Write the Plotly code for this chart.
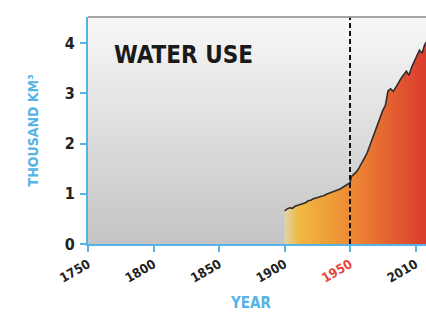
import plotly.graph_objects as go

# ---- data ----
YEARS = [1900, 1902, 1904, 1906, 1908, 1910, 1912, 1914, 1916, 1918, 1920, 1922, 1924,
         1926, 1928, 1930, 1932, 1934, 1936, 1938, 1940, 1942, 1944, 1946, 1948, 1950,
         1951, 1953, 1955, 1957, 1959, 1961, 1963, 1965, 1967, 1969, 1971, 1973, 1975,
         1977, 1979, 1981, 1983, 1985, 1987, 1989, 1991, 1993, 1995, 1997, 1999, 2001,
         2003, 2005, 2007, 2009]
WATER_USE = [0.66, 0.70, 0.72, 0.71, 0.75, 0.77, 0.79, 0.80, 0.82, 0.86, 0.87, 0.90, 0.91,
             0.93, 0.95, 0.96, 0.99, 1.01, 1.02, 1.05, 1.07, 1.09, 1.12, 1.15, 1.18, 1.22,
             1.34, 1.39, 1.44, 1.52, 1.61, 1.70, 1.81, 1.95, 2.10, 2.25, 2.38, 2.52, 2.66,
             2.76, 3.05, 3.09, 3.04, 3.12, 3.22, 3.30, 3.37, 3.44, 3.36, 3.52, 3.63, 3.76,
             3.86, 3.80, 3.97, 4.05]
X_TICK_VALS = [1750, 1800, 1850, 1900, 1950, 2000]
X_TICK_LABELS = ["1750", "1800", "1850", "1900",
                 "<span style='color:#e8433b'>1950</span>", "2010"]
Y_TICK_VALS = [0, 1, 2, 3, 4]
MARK_YEAR = 1950
X_RANGE = [1750, 2008]
Y_RANGE = [0, 4.52]

BLUE = "#55b3e6"
FONT = "Liberation Sans Narrow, DejaVu Sans Condensed, DejaVu Sans, sans-serif"

fig = go.Figure()

# background gradient panel
fig.add_trace(go.Scatter(
    x=[X_RANGE[0], X_RANGE[1], X_RANGE[1], X_RANGE[0], X_RANGE[0]],
    y=[Y_RANGE[0], Y_RANGE[0], Y_RANGE[1], Y_RANGE[1], Y_RANGE[0]],
    mode="lines", line=dict(width=0), fill="toself",
    fillgradient=dict(type="vertical", start=Y_RANGE[0], stop=Y_RANGE[1],
                      colorscale=[[0, "#c4c4c4"], [1, "#f8f8f8"]]),
    hoverinfo="skip", showlegend=False))

# water use area
fig.add_trace(go.Scatter(
    x=YEARS, y=WATER_USE, mode="lines",
    line=dict(color="#2e2e2e", width=1.6),
    fill="tozeroy",
    fillgradient=dict(type="horizontal", start=YEARS[0], stop=YEARS[-1],
                      colorscale=[[0, "#e2d3a8"], [0.1, "#f0b942"],
                                  [0.45, "#ee8c33"], [1, "#da3a2e"]]),
    hoverinfo="skip", showlegend=False))

# 1950 marker line
fig.add_trace(go.Scatter(
    x=[MARK_YEAR, MARK_YEAR], y=[Y_RANGE[0], Y_RANGE[1]], mode="lines",
    line=dict(color="#111111", width=2, dash="5px,3px"),
    hoverinfo="skip", showlegend=False))

fig.update_layout(
    width=426, height=317,
    margin=dict(l=88, r=0, t=17, b=73),
    paper_bgcolor="white", plot_bgcolor="white",
    xaxis=dict(range=X_RANGE, tickvals=X_TICK_VALS, ticktext=X_TICK_LABELS,
               tickangle=-30, showgrid=False, zeroline=False,
               showline=True, linecolor=BLUE, linewidth=2,
               ticks="outside", ticklen=6, tickwidth=2, tickcolor=BLUE,
               tickfont=dict(family=FONT, size=13, color="#222222", weight="bold")),
    yaxis=dict(range=Y_RANGE, tickvals=Y_TICK_VALS, showgrid=False, zeroline=False,
               showline=True, linecolor=BLUE, linewidth=2,
               ticks="outside", ticklen=6, tickwidth=2, tickcolor=BLUE,
               ticklabelstandoff=2,
               tickfont=dict(family=FONT, size=16, color="#222222", weight="bold")),
    shapes=[dict(type="line", xref="paper", yref="paper", x0=0, x1=1, y0=1, y1=1,
                 line=dict(color="#8a8a8a", width=1.5))],
    annotations=[
        dict(text="WATER USE", xref="paper", yref="paper", x=0.07, y=0.833,
             xanchor="left", yanchor="middle", showarrow=False,
             font=dict(family=FONT, size=24, color="#1a1a1a", weight="bold")),
        dict(text="THOUSAND KM³", xref="paper", yref="paper", x=-0.163, y=0.5,
             xanchor="center", yanchor="middle", textangle=-90, showarrow=False,
             font=dict(family=FONT, size=14, color=BLUE, weight="bold")),
        dict(text="YEAR", xref="paper", yref="paper", x=0.482, y=-0.26,
             xanchor="center", yanchor="middle", showarrow=False,
             font=dict(family=FONT, size=15, color=BLUE, weight="bold")),
    ],
)

fig.write_html(
    "out.html",
    config={"displayModeBar": False, "staticPlot": True},
    post_script="document.body.style.margin='0';document.body.style.overflow='hidden';",
)
